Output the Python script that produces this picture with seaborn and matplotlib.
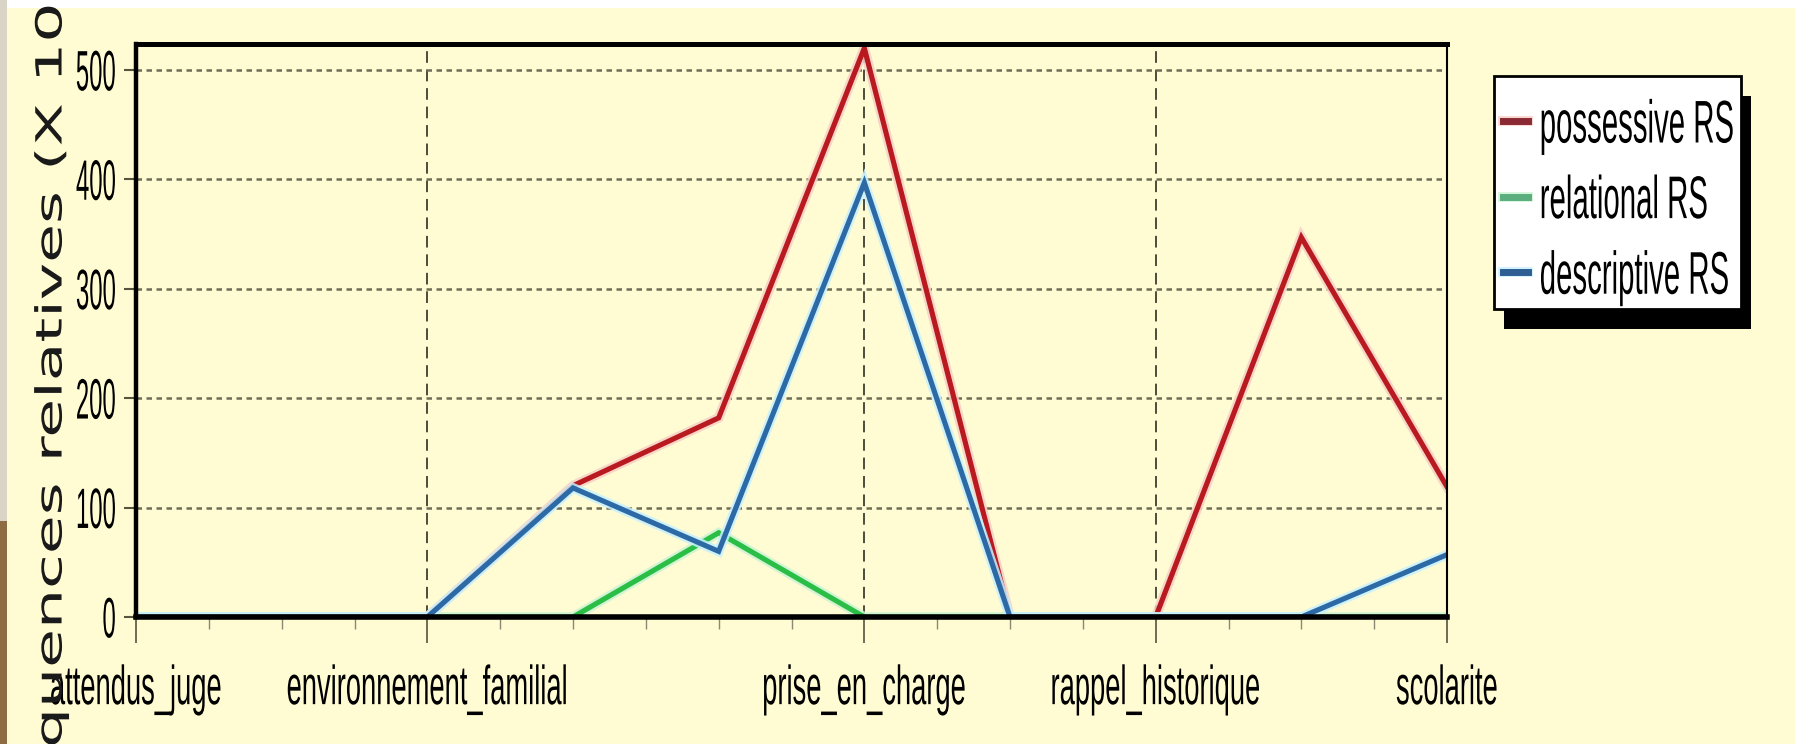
import numpy as np
import pandas as pd
import matplotlib
matplotlib.use("Agg")
import matplotlib.pyplot as plt
import matplotlib.patheffects as pe
from matplotlib import font_manager
from matplotlib.patches import Rectangle
from matplotlib.ticker import FixedLocator, MultipleLocator
from matplotlib.transforms import Affine2D
import seaborn as sns

# categories on the x axis (only some of them carry a visible label)
categories = ["attendus_juge", "conclusions", "environnement_familial", "expertise",
              "mesures", "prise_en_charge", "probleme", "rappel_historique",
              "relations", "scolarite"]
shown_labels = ["attendus_juge", "environnement_familial", "prise_en_charge",
                "rappel_historique", "scolarite"]

# relative frequencies
possessive = [0, 0, 0, 120, 182, 520, 0, 0, 347, 119]
relational = [0, 0, 0, 0, 77, 0, 0, 0, 0, 0]
descriptive = [0, 0, 0, 118, 60, 397, 0, 0, 0, 57]
series_names = ["possessive RS", "relational RS", "descriptive RS"]
y_ticks = [0, 100, 200, 300, 400, 500]

line_colors = ["#B81A1F", "#2BBE46", "#2D6AA5"]
halo_colors = ["#F6CFC6", "#CBF3D3", "#C6F1FF"]
legend_colors = ["#8B2A35", "#5BAE7E", "#2F5E95"]
BG = "#FFFBD2"

W, H = 1795, 744

# the reference is a vertically stretched screenshot, narrow fonts look tall
available = {f.name for f in font_manager.fontManager.ttflist}
if "Liberation Sans Narrow" in available:
    NARROW, K = "Liberation Sans Narrow", 1.0
else:
    NARROW, K = "Liberation Sans", 0.82


class Stretch(pe.AbstractPathEffect):
    """draw text glyphs stretched vertically around an anchor (glyph units)"""
    def __init__(self, sy, ay=None):
        super().__init__()
        self.sy = sy
        self.ay = ay

    def draw_path(self, renderer, gc, tpath, affine, rgbFace=None):
        ext = tpath.get_extents()
        gx = (ext.x0 + ext.x1) / 2
        gy = (ext.y0 + ext.y1) / 2 if self.ay is None else self.ay
        px, py = affine.transform((gx, gy))
        st = Affine2D().translate(-px, -py).scale(1, self.sy).translate(px, py)
        renderer.draw_path(gc, tpath, affine + st, rgbFace)


df = pd.DataFrame({
    "pos": np.tile(np.arange(len(categories)), 3),
    "category": categories * 3,
    "value": possessive + relational + descriptive,
    "series": np.repeat(series_names, len(categories)),
})

fig = plt.figure(figsize=(W / 100, H / 100), dpi=100, facecolor=BG)
ax = fig.add_axes([136 / W, 1 - 617 / H, (1447 - 136) / W, (617 - 43.7) / H])
ax.set_facecolor(BG)

# bits of the screenshot border
fig.add_artist(Rectangle((0, 1 - 8 / H), 1, 8 / H, transform=fig.transFigure,
                         facecolor="white", edgecolor="none", zorder=-1))
fig.add_artist(Rectangle((0, 0.3), 7 / W, 0.7, transform=fig.transFigure,
                         facecolor="#D9D4C6", edgecolor="none", zorder=-1))
fig.add_artist(Rectangle((0, 0), 7 / W, 0.3, transform=fig.transFigure,
                         facecolor="#8E6B42", edgecolor="none", zorder=-1))

palette = dict(zip(series_names, line_colors))
sns.lineplot(data=df, x="pos", y="value", hue="series", hue_order=series_names,
             palette=palette, estimator=None, sort=False, linewidth=3.7,
             legend=False, ax=ax)

for line, halo in zip(ax.lines, halo_colors):
    line.set_solid_joinstyle("miter")
    line.set_path_effects([pe.Stroke(linewidth=7, foreground=halo, alpha=0.85),
                           pe.Normal()])

ax.set_xlim(0, len(categories) - 1)
ax.set_ylim(0, 524)
ax.xaxis.set_major_locator(FixedLocator([categories.index(c) for c in shown_labels]))
ax.set_xticklabels(shown_labels)
ax.xaxis.set_minor_locator(MultipleLocator(0.5))
ax.set_yticks(y_ticks)
ax.set_xlabel("")

ax.tick_params(axis="x", which="major", length=19, width=1.2, color="#55553F",
               pad=15, labelsize=24 * K, labelcolor="black")
ax.tick_params(axis="x", which="minor", length=8.5, width=1.0, color="#8A8A72")
ax.tick_params(axis="y", which="major", length=8.6, width=1.5, color="#55553F",
               pad=6, labelsize=21 * K, labelcolor="black")
for t in ax.get_xticklabels():
    t.set_family(NARROW)
    t.set_path_effects([Stretch(1.65 / K, 72)])
for t in ax.get_yticklabels():
    t.set_family(NARROW)
    t.set_path_effects([Stretch(1.95 / K, 36)])

ax.yaxis.grid(True, linestyle=(0, (2.2, 1.8)), color="#6F6D55", linewidth=1.8)
ax.xaxis.grid(True, which="major", linestyle=(0, (6, 3.5)), color="#4D4C3A", linewidth=1.4)

for side, lw in [("left", 3.2), ("top", 3.6), ("right", 1.5), ("bottom", 4.0)]:
    ax.spines[side].set_linewidth(lw)
    ax.spines[side].set_color("black")

ax.set_ylabel("Fréquences relatives (X 10 000)", fontsize=26, family="DejaVu Sans",
              color="#1A1A1A")
ax.yaxis.label.set_va("center")
ax.yaxis.set_label_coords(-0.065, 0.483)
ax.yaxis.label.set_path_effects([Stretch(1.75)])

# legend content without frame, the boxed frame and its shadow are drawn below
leg = fig.legend(ax.lines[:3], series_names, loc="center left",
                 bbox_to_anchor=(1503 / W, 1 - 199 / H), bbox_transform=fig.transFigure,
                 frameon=False, prop=dict(family=NARROW, size=25.8 * K),
                 handlelength=0.85, handletextpad=0.4, borderpad=0,
                 labelspacing=1.62, borderaxespad=0)
for h, c in zip(leg.legend_handles, legend_colors):
    h.set_color(c)
    h.set_linewidth(5)
for t in leg.get_texts():
    t.set_path_effects([Stretch(1.68 / K, 36)])

box_x0, box_x1, box_top, box_bot = 1494, 1741, 76, 309
fig.add_artist(Rectangle((box_x0 / W + 10 / W, 1 - (box_bot + 20) / H),
                         (box_x1 - box_x0) / W, (box_bot - box_top) / H,
                         transform=fig.transFigure, facecolor="black",
                         edgecolor="none", zorder=4.5))
fig.add_artist(Rectangle((box_x0 / W, 1 - box_bot / H),
                         (box_x1 - box_x0) / W, (box_bot - box_top) / H,
                         transform=fig.transFigure, facecolor="white",
                         edgecolor="black", linewidth=2, zorder=4.6))

fig.savefig("out.png", dpi=100, facecolor=BG)
